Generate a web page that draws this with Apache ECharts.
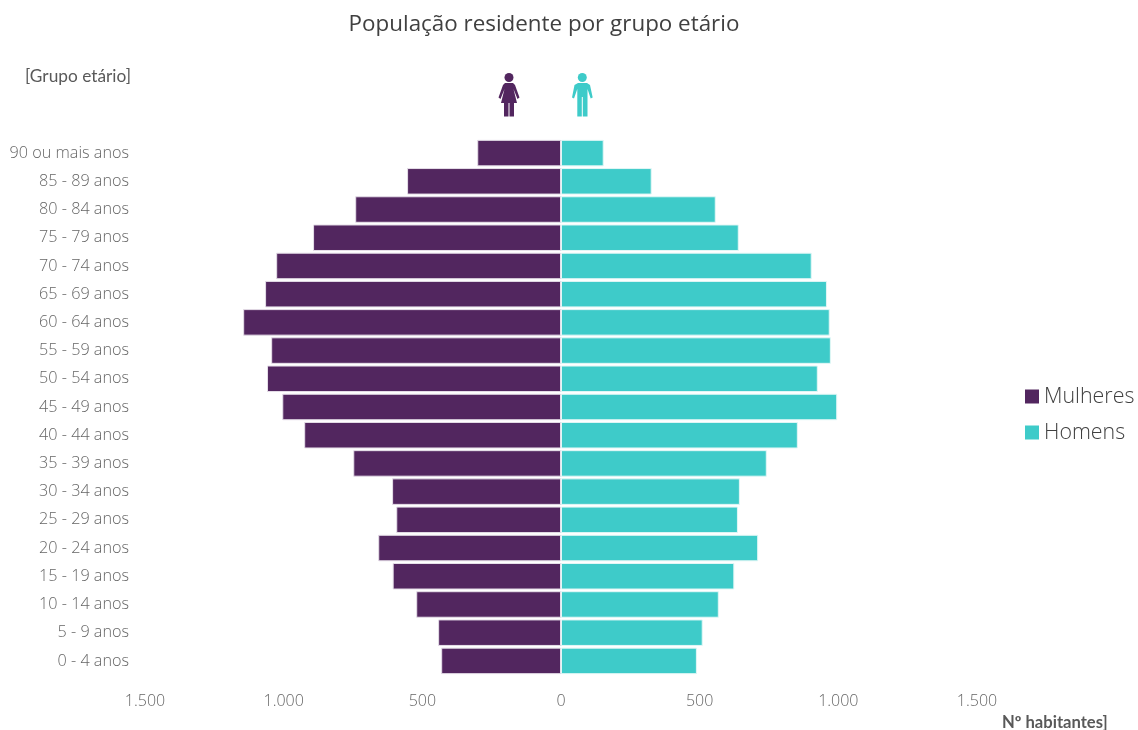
<!DOCTYPE html>
<html>
<head>
<meta charset="utf-8">
<style>
  html, body { margin: 0; padding: 0; background: #fff; }
  #main { width: 1138px; height: 730px; }
</style>
<script src="https://cdn.jsdelivr.net/npm/echarts@6/dist/echarts.min.js"></script>
</head>
<body>
<div id="main"></div>
<script>
// de baixo para cima, como no eixo
var categories = ['0 - 4 anos', '5 - 9 anos', '10 - 14 anos', '15 - 19 anos', '20 - 24 anos', '25 - 29 anos',
  '30 - 34 anos', '35 - 39 anos', '40 - 44 anos', '45 - 49 anos', '50 - 54 anos', '55 - 59 anos',
  '60 - 64 anos', '65 - 69 anos', '70 - 74 anos', '75 - 79 anos', '80 - 84 anos', '85 - 89 anos', '90 ou mais anos'];
var mulheres = [432, 443, 522, 607, 659, 594, 609, 749, 926, 1005, 1060, 1045, 1146, 1067, 1027, 894, 742, 555, 302];
var homens = [490, 511, 569, 625, 711, 638, 645, 742, 854, 996, 926, 973, 969, 959, 904, 641, 558, 327, 154];
var xTicks = [-1500, -1000, -500, 0, 500, 1000, 1500];

var roxo = '#52265f';
var turquesa = '#3ecbc9';

function fmt(v) {
  return String(Math.abs(v)).replace(/\B(?=(\d{3})+$)/g, '.');
}

var chart = echarts.init(document.getElementById('main'), null, { renderer: 'canvas' });
chart.setOption({
  animation: false,
  backgroundColor: '#fff',
  title: {
    text: 'População residente por grupo etário',
    left: 539,
    top: 9,
    textAlign: 'center',
    textStyle: { fontFamily: 'Open Sans', fontSize: 22.4, fontWeight: 'normal', color: '#404040' }
  },
  legend: {
    orient: 'vertical',
    left: 1025,
    top: 386,
    padding: 0,
    itemWidth: 14,
    itemHeight: 14,
    itemGap: 15,
    icon: 'rect',
    itemStyle: { borderWidth: 0 },
    data: ['Mulheres', 'Homens'],
    textStyle: { fontFamily: 'Open Sans', fontSize: 21.4, fontWeight: 300, color: '#404040' }
  },
  grid: { left: 145, right: 161, top: 139, bottom: 55 },
  xAxis: {
    type: 'value',
    min: xTicks[0],
    max: xTicks[xTicks.length - 1],
    interval: 500,
    splitLine: { show: false },
    axisLine: { show: false },
    axisTick: { show: false },
    axisLabel: {
      formatter: fmt,
      margin: 18,
      fontFamily: 'Open Sans',
      fontWeight: 300,
      fontSize: 16,
      color: '#666666'
    }
  },
  yAxis: {
    type: 'category',
    data: categories,
    axisLine: { show: false, onZero: false },
    axisTick: { show: false },
    axisLabel: {
      margin: 16,
      padding: [5, 0, 0, 0],
      fontFamily: 'Open Sans',
      fontWeight: 300,
      fontSize: 16.2,
      color: '#666666'
    }
  },
  series: [
    {
      name: 'Mulheres',
      type: 'bar',
      stack: 'pop',
      barCategoryGap: '6%',
      data: mulheres.map(function (v) { return -v; }),
      itemStyle: { color: roxo, borderColor: '#e6dfe9', borderWidth: 1 }
    },
    {
      name: 'Homens',
      type: 'bar',
      stack: 'pop',
      barCategoryGap: '6%',
      data: homens,
      itemStyle: { color: turquesa, borderColor: '#e2f7f6', borderWidth: 1 }
    }
  ],
  graphic: [
    {
      type: 'text', x: 25, y: 68,
      style: { text: '[Grupo etário]', font: '17.3px Lato', fill: '#595959' }
    },
    {
      type: 'text', x: 1002, y: 714,
      style: { text: 'Nº habitantes]', font: 'bold 16.6px Lato', fill: '#595959' }
    },
    // mulher
    {
      type: 'group', x: 498, y: 73,
      children: [
        { type: 'circle', shape: { cx: 11, cy: 4.5, r: 4.5 }, style: { fill: roxo } },
        {
          type: 'polygon',
          shape: {
            points: [[7, 10], [15, 10], [17, 12], [21.5, 24.5], [19.5, 26], [15.5, 16], [19, 30], [16, 30], [16, 43.5], [11.5, 43.5],
              [11.5, 30], [10.5, 30], [10.5, 43.5], [6, 43.5], [6, 30], [3, 30], [6.5, 16], [2.5, 26], [0.5, 24.5], [5, 12]]
          },
          style: { fill: roxo }
        }
      ]
    },
    // homem
    {
      type: 'group', x: 571, y: 73,
      children: [
        { type: 'circle', shape: { cx: 11.3, cy: 4.5, r: 4.5 }, style: { fill: turquesa } },
        {
          type: 'polygon',
          shape: {
            points: [[7, 10], [16, 10], [19, 12], [21.7, 24.5], [19.7, 25.5], [16.5, 16], [16.5, 43.5], [11.8, 43.5],
              [11.8, 24], [10.8, 24], [10.8, 43.5], [6.3, 43.5], [6.3, 16], [3, 25.5], [1, 24.5], [3.5, 12]]
          },
          style: { fill: turquesa }
        }
      ]
    }
  ]
});
</script>
</body>
</html>
